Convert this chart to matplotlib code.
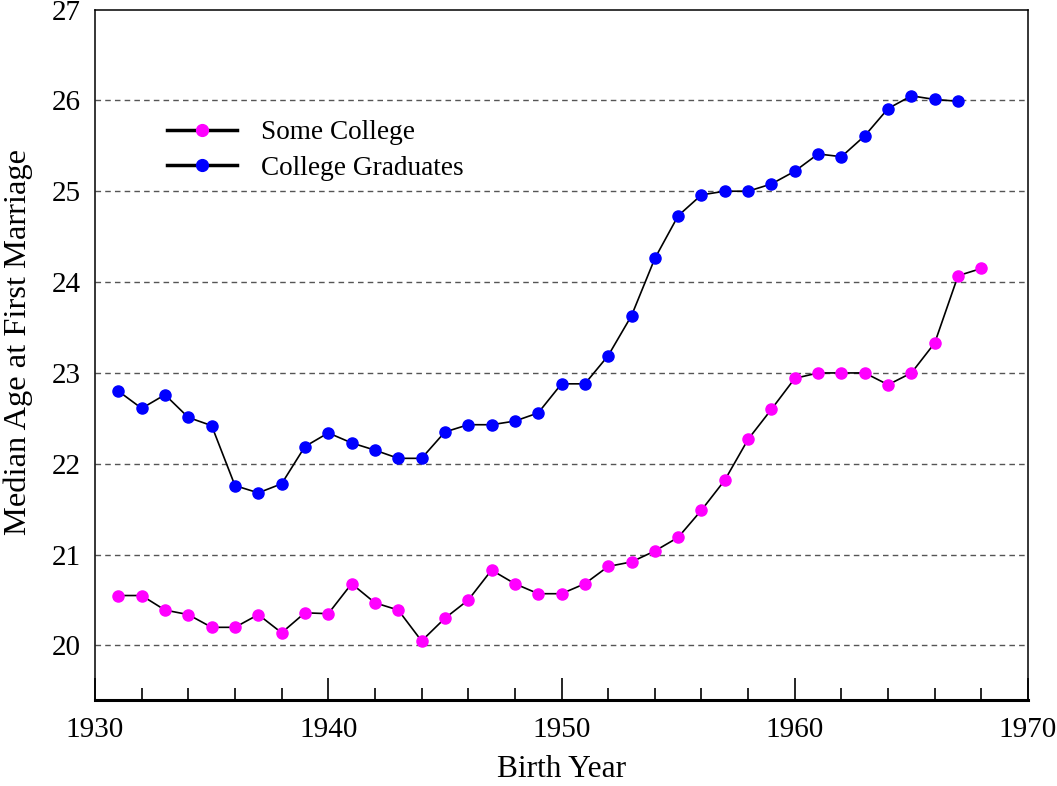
import matplotlib.pyplot as plt
from matplotlib.lines import Line2D
from matplotlib.ticker import MultipleLocator

plt.rcParams['font.family'] = ['Liberation Serif', 'DejaVu Serif']

# birth cohorts
years_some = list(range(1931, 1969))
years_grad = list(range(1931, 1968))

# median age at first marriage, some college
some_college = [20.55, 20.55, 20.39, 20.34, 20.20, 20.20, 20.34, 20.14, 20.36, 20.35,
                20.68, 20.47, 20.39, 20.05, 20.30, 20.50, 20.83, 20.68, 20.57, 20.57,
                20.68, 20.87, 20.92, 21.04, 21.19, 21.49, 21.82, 22.27, 22.60, 22.94,
                23.00, 23.00, 23.00, 22.87, 23.00, 23.33, 24.07, 24.15]

# median age at first marriage, college graduates
college_grad = [22.80, 22.61, 22.76, 22.51, 22.42, 21.76, 21.68, 21.78, 22.19, 22.34,
                22.23, 22.15, 22.06, 22.06, 22.35, 22.43, 22.43, 22.47, 22.56, 22.88,
                22.88, 23.19, 23.63, 24.26, 24.73, 24.96, 25.00, 25.00, 25.08, 25.22,
                25.41, 25.38, 25.61, 25.91, 26.05, 26.01, 25.99]

fig = plt.figure(figsize=(10.57, 7.86), dpi=100)
ax = fig.add_axes([0.0899, 0.1094, 0.8827, 0.8785])

for yv in range(20, 27):
    ax.axhline(yv, color='#555555', linewidth=1.0, dashes=(4, 3), zorder=1)

ax.plot(years_some, some_college, color='black', linewidth=1.2,
        marker='o', markersize=8, markerfacecolor='#ff00ff', markeredgecolor='#ff00ff', zorder=3)
ax.plot(years_grad, college_grad, color='black', linewidth=1.2,
        marker='o', markersize=8, markerfacecolor='#0000ff', markeredgecolor='#0000ff', zorder=3)

ax.set_xlim(1930, 1970)
ax.set_ylim(19.4, 27)
ax.xaxis.set_major_locator(MultipleLocator(10))
ax.xaxis.set_minor_locator(MultipleLocator(2))
ax.yaxis.set_major_locator(MultipleLocator(1))

ax.tick_params(axis='x', which='major', direction='in', length=16, width=1.2,
               labelsize=21, pad=12)
ax.tick_params(axis='x', which='minor', direction='in', length=9, width=1.2)
ax.tick_params(axis='y', which='major', direction='in', length=0, labelsize=21, pad=10)

for s in ['left', 'right', 'top']:
    ax.spines[s].set_linewidth(1.1)
ax.spines['bottom'].set_linewidth(2.2)

ax.set_xlabel('Birth Year', fontsize=22.6, labelpad=9)
ax.set_ylabel('Median Age at First Marriage', fontsize=23.4)
ax.yaxis.set_label_coords(-0.066, 0.518)

handles = [
    Line2D([], [], color='black', linewidth=2.5, marker='o', markersize=8.5,
           markerfacecolor='#ff00ff', markeredgecolor='#ff00ff'),
    Line2D([], [], color='black', linewidth=2.5, marker='o', markersize=8.5,
           markerfacecolor='#0000ff', markeredgecolor='#0000ff'),
]
ax.legend(handles, ['Some College', 'College Graduates'], loc='upper left',
          bbox_to_anchor=(0.051, 0.875), frameon=False, fontsize=19.6,
          handlelength=2.55, handletextpad=0.9, labelspacing=0.38, numpoints=1)

fig.savefig('out.png', dpi=100)
